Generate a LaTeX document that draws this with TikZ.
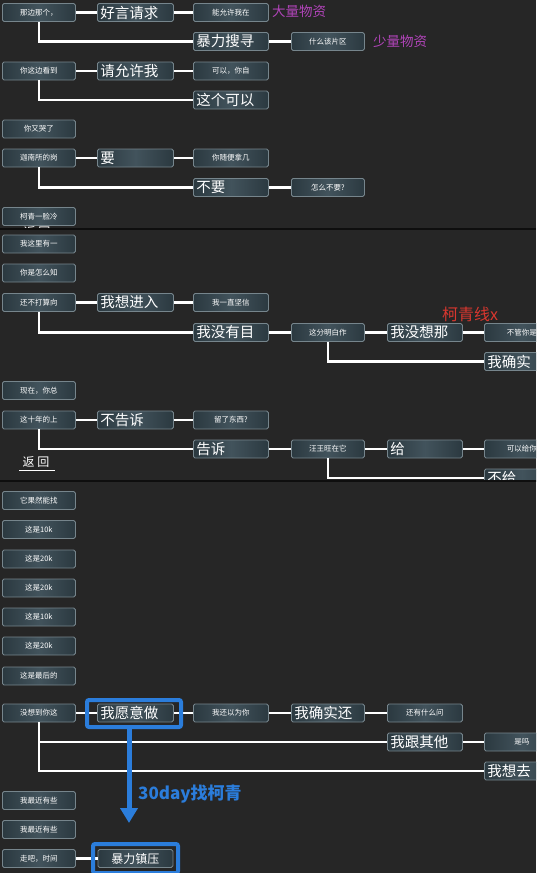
\documentclass[tikz,border=0pt]{standalone}
\usepackage{fontspec}
\newfontfamily\cjk{Noto Sans CJK SC}
\usetikzlibrary{arrows.meta}
\definecolor{bg}{HTML}{262626}
\definecolor{sepc}{HTML}{0E0E0E}
\definecolor{boxedge}{HTML}{2B3940}
\definecolor{boxmid}{HTML}{42535C}
\definecolor{boxline}{HTML}{76858C}
\definecolor{purp}{HTML}{B044B8}
\definecolor{redc}{HTML}{D8372F}
\definecolor{bluec}{HTML}{2B7DDB}
\begin{document}
\begin{tikzpicture}[x=1pt,y=-1pt,
  box/.style={rectangle, rounded corners=1.6pt,
    draw=boxline, line width=0.8pt, left color=boxedge, right color=boxedge, middle color=boxmid,
    minimum height=18pt, inner ysep=0pt, inner xsep=0pt, anchor=west, text=white},
  sb/.style={box, minimum width=#1, font=\cjk\fontsize{7.5}{8}\selectfont},
  bb/.style={box, text width=#1, align=left, inner xsep=3pt, font=\cjk\fontsize{14.5}{15}\selectfont},
  conn/.style={draw=white, line width=2.6pt},
  note/.style={anchor=west, inner sep=0pt, font=\cjk\fontsize{13.5}{14}\selectfont},
  hl/.style={draw=bluec, line width=4pt, rounded corners=2pt, minimum width=#1, inner sep=0pt},
  sepline/.style={draw=sepc, line width=1.5pt}
]
\useasboundingbox (0,0) rectangle (536,873);
\fill[bg] (0,0) rectangle (536,873);

% ---------------- panel 1 ----------------
\begin{scope}
\clip (0,0) rectangle (536,229);
\node[sb=73pt] (a1) at (2,12.5) {那边那个，};
\node[bb=70pt] (a2) at (97,12.5) {好言请求};
\node[sb=75pt] (a3) at (193,12.5) {能允许我在};
\node[note, text=purp] (a4) at (272,11.5) {大量物资};
\node[bb=69pt] (a5) at (193,41.5) {暴力搜寻};
\node[sb=73pt] (a6) at (291,41.5) {什么该片区};
\node[note, text=purp] (a7) at (373,41) {少量物资};
\draw[conn] (a1.east) -- (a2.west);
\draw[conn] (a2.east) -- (a3.west);
\draw[conn] (a1.south) |- (a5.west);
\draw[conn] (a5.east) -- (a6.west);

\node[sb=73pt] (b1) at (2,71) {你这边看到};
\node[bb=70pt] (b2) at (97,71) {请允许我};
\node[sb=75pt] (b3) at (193,71) {可以，你自};
\node[bb=69pt] (b4) at (193,100) {这个可以};
\draw[conn] (b1.east) -- (b2.west);
\draw[conn] (b2.east) -- (b3.west);
\draw[conn] (b1.south) |- (b4.west);

\node[sb=73pt] (c0) at (2,129) {你又哭了};
\node[sb=73pt] (c1) at (2,158) {迦南所的岗};
\node[bb=70pt] (c2) at (97,158) {要};
\node[sb=75pt] (c3) at (193,158) {你随便拿几};
\node[bb=69pt] (c4) at (193,187.5) {不要};
\node[sb=73pt] (c5) at (291,187.5) {怎么不要?};
\draw[conn] (c1.east) -- (c2.west);
\draw[conn] (c2.east) -- (c3.west);
\draw[conn] (c1.south) |- (c4.west);
\draw[conn] (c4.east) -- (c5.west);

\node[sb=73pt] (d1) at (2,216.5) {柯青一脸冷};
\node[text=white, inner sep=0pt, font=\cjk\fontsize{12}{12}\selectfont] (d2) at (37,232.5) {返 回};
\end{scope}
\draw[sepline] (0,229) -- (536,229);

% ---------------- panel 2 ----------------
\begin{scope}
\clip (0,229.8) rectangle (536,481);
\node[sb=73pt] (e1) at (2,244) {我这里有一};
\node[sb=73pt] (e2) at (2,273) {你是怎么知};
\node[sb=73pt] (e3) at (2,302.5) {还不打算向};
\node[bb=70pt] (e4) at (97,302.5) {我想进入};
\node[sb=75pt] (e5) at (193,302.5) {我一直坚信};
\node[bb=69pt] (e6) at (193,332.5) {我没有目};
\node[sb=73pt] (e7) at (291,332.5) {这分明白作};
\node[bb=69pt] (e8) at (387,332.5) {我没想那};
\node[sb=75pt] (e9) at (484,332.5) {不管你是};
\node[bb=69pt] (e10) at (484,361.5) {我确实};
\node[note, text=redc, font=\cjk\fontsize{16}{16}\selectfont] (e11) at (442,314) {柯青线x};
\draw[conn] (e3.east) -- (e4.west);
\draw[conn] (e4.east) -- (e5.west);
\draw[conn] (e3.south) |- (e6.west);
\draw[conn] (e6.east) -- (e7.west);
\draw[conn] (e7.east) -- (e8.west);
\draw[conn] (e8.east) -- (e9.west);
\draw[conn] (e7.south) |- (e10.west);

\node[sb=73pt] (f1) at (2,390.5) {现在，你总};
\node[sb=73pt] (f2) at (2,420) {这十年的上};
\node[bb=70pt] (f3) at (97,420) {不告诉};
\node[sb=75pt] (f4) at (193,420) {留了东西?};
\node[bb=69pt] (f5) at (193,449) {告诉};
\node[sb=73pt] (f6) at (291,449) {汪王旺在它};
\node[bb=69pt] (f7) at (387,449) {给};
\node[sb=75pt] (f8) at (484,449) {可以给你};
\node[bb=69pt] (f9) at (484,478) {不给};
\draw[conn] (f2.east) -- (f3.west);
\draw[conn] (f3.east) -- (f4.west);
\draw[conn] (f2.south) |- (f5.west);
\draw[conn] (f5.east) -- (f6.west);
\draw[conn] (f6.east) -- (f7.west);
\draw[conn] (f7.east) -- (f8.west);
\draw[conn] (f6.south) |- (f9.west);

\node[text=white, inner sep=0pt, font=\cjk\fontsize{12}{12}\selectfont] (g1) at (36,462) {返 回};
\draw[white, line width=1pt] ([xshift=-3pt,yshift=-3pt]g1.south west) -- ([xshift=5pt,yshift=-3pt]g1.south east);
\end{scope}
\draw[sepline] (0,481) -- (536,481);

% ---------------- panel 3 ----------------
\begin{scope}
\clip (0,481.8) rectangle (536,873);
\node[sb=73pt] (h1) at (2,500.5) {它果然能找};
\node[sb=73pt] (h2) at (2,529.5) {这是10k};
\node[sb=73pt] (h3) at (2,559) {这是20k};
\node[sb=73pt] (h4) at (2,588) {这是20k};
\node[sb=73pt] (h5) at (2,617) {这是10k};
\node[sb=73pt] (h6) at (2,646) {这是20k};
\node[sb=73pt] (h7) at (2,676) {这是最后的};

\node[sb=73pt] (i1) at (2,713) {没想到你这};
\node[bb=70pt] (i2) at (97,713) {我愿意做};
\node[sb=75pt] (i3) at (193,713) {我还以为你};
\node[bb=67pt] (i4) at (291,713) {我确实还};
\node[sb=75pt] (i5) at (387,713) {还有什么问};
\node[bb=69pt] (i6) at (387,742) {我跟其他};
\node[sb=75pt] (i7) at (484,742) {是吗};
\node[bb=69pt] (i8) at (484,771) {我想去};
\draw[conn] (i1.east) -- (i2.west);
\draw[conn] (i2.east) -- (i3.west);
\draw[conn] (i3.east) -- (i4.west);
\draw[conn] (i4.east) -- (i5.west);
\draw[conn] (i1.south) |- (i6.west);
\draw[conn] (i1.south) |- (i8.west);
\draw[conn] (i6.east) -- (i7.west);

\node[hl=94pt, minimum height=27pt] (j1) at (134,713.5) {};
\coordinate (j2) at (129,823);
\draw[draw=bluec, line width=5pt, -{Triangle[width=17pt,length=15pt]}] ([xshift=-5pt]j1.south) -- (j2);
\node[note, text=bluec, font=\cjk\bfseries\fontsize{17}{17}\selectfont] (j3) at (138,794) {30day找柯青};

\node[sb=73pt] (k1) at (2,800.5) {我最近有些};
\node[sb=73pt] (k2) at (2,829.5) {我最近有些};
\node[sb=73pt] (k3) at (2,858.5) {走吧，时间};
\node[sb=75pt, font=\cjk\fontsize{12}{12}\selectfont] (k4) at (97.5,858.5) {暴力镇压};
\draw[conn] (k3.east) -- (k4.west);
\node[hl=85pt, minimum height=29pt] (k5) at (135.5,858.5) {};
\end{scope}
\end{tikzpicture}
\end{document}
